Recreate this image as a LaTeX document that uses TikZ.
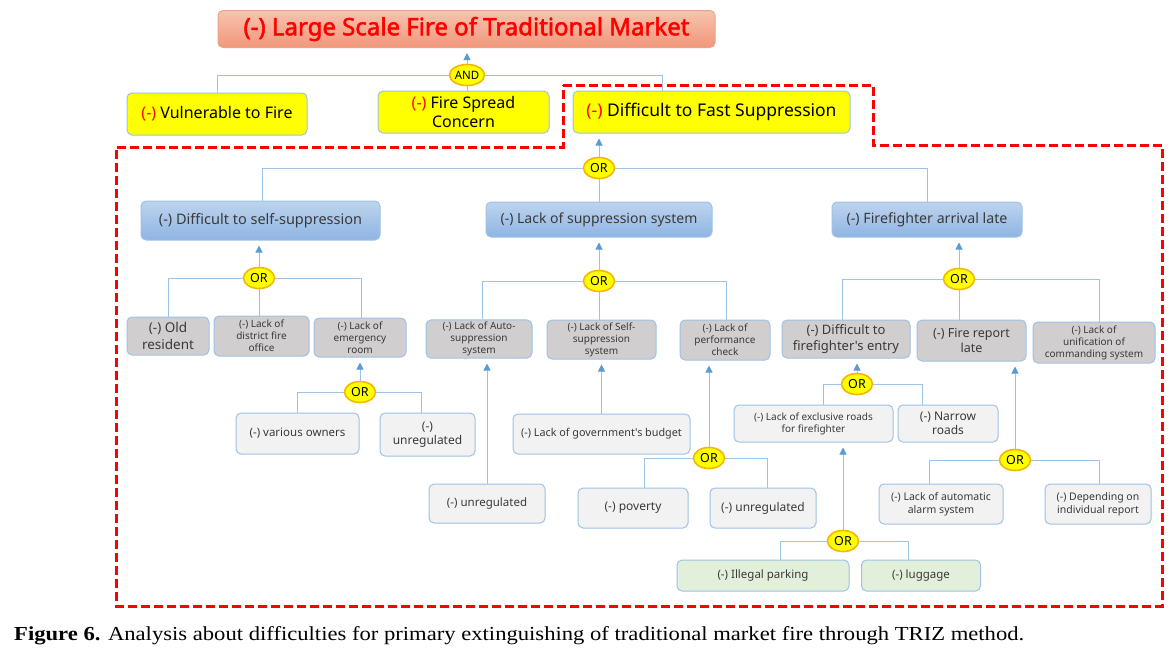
\documentclass[tikz,border=0pt]{standalone}
\usepackage{fontspec}
\usetikzlibrary{shapes.geometric,arrows.meta}
\setmainfont{Liberation Serif}
\newfontfamily\bx{Noto Sans}
\newfontfamily\bxb{Noto Sans}[FakeBold=2.2]
\definecolor{yel}{HTML}{FFFF00}
\definecolor{gold}{HTML}{F5B800}
\definecolor{bordc}{HTML}{9DC3E6}
\definecolor{linec}{HTML}{9DC3E6}
\definecolor{arrc}{HTML}{5B9BD5}
\definecolor{grayc}{HTML}{D0CECE}
\definecolor{lightc}{HTML}{F2F2F2}
\definecolor{greenc}{HTML}{E2EFDA}
\definecolor{blu1}{HTML}{BDD4EE}
\definecolor{blu2}{HTML}{8FB4E3}
\definecolor{sal1}{HTML}{F8C3AE}
\definecolor{sal2}{HTML}{F0977A}
\definecolor{salb}{HTML}{E8A58C}
\definecolor{dred}{HTML}{FF0000}
\definecolor{txt}{HTML}{3A3A3A}
\newcommand\fs[1]{\fontsize{#1}{\the\dimexpr #1pt*6/5\relax}\selectfont}
\newcommand\mn{{\color{red}(-)}}
\tikzset{
  box/.style={rounded corners=5pt, draw=bordc, line width=1pt, align=center, inner sep=2pt, font=\bx, text=txt},
  ybox/.style={box, fill=yel, text=black},
  bbox/.style={box, top color=blu1, bottom color=blu2},
  gbox/.style={box, fill=grayc},
  lbox/.style={box, fill=lightc},
  grbox/.style={box, fill=greenc},
  gate/.style={ellipse, draw=gold, fill=yel, line width=1.6pt, inner sep=0pt, minimum width=31pt, minimum height=21pt, font=\bx\fs{12.5}, text=black},
  conn/.style={draw=linec, line width=1pt},
  arr/.style={conn, shorten >=5pt, -{Triangle[width=7pt,length=7pt,color=arrc]}},
  dashbox/.style={draw=dred, line width=3pt, dash pattern=on 9pt off 4pt}
}
\begin{document}
\begin{tikzpicture}[x=1pt,y=-1pt]
\fill[white] (0,0) rectangle (1176,657);
\useasboundingbox (0,0) rectangle (1176,657);
% red dashed outline
\draw[dashbox] (563,85) -- (873,85) -- (873,145) -- (1162,145) -- (1162,606) -- (116,606) -- (116,147) -- (563,147) -- cycle;
% level 0
\node[box, draw=salb, top color=sal1, bottom color=sal2, minimum width=497pt, minimum height=37pt, font=\bxb\fs{24}, text=red] (title) at (466.5,29) {(-) Large Scale Fire of Traditional Market};
\node[gate, minimum width=35pt, font=\bx\fs{11.5}] (and) at (467,75) {AND};
% level 1
\node[ybox, minimum width=180pt, minimum height=42pt, font=\bx\fs{16}] (vul) at (217,114) {\mn\ Vulnerable to Fire};
\node[ybox, minimum width=171pt, minimum height=42pt, font=\bx\fs{16}] (spread) at (463.5,112) {\mn\ Fire Spread\\Concern};
\node[ybox, minimum width=277pt, minimum height=42pt, font=\bx\fs{17.5}] (fast) at (711.5,112) {\mn\ Difficult to Fast Suppression};
\node[gate] (or1) at (599,168) {OR};
% level 2
\node[bbox, minimum width=239pt, minimum height=39pt, font=\bx\fs{14.5}] (self) at (260.5,220.5) {(-) Difficult to self-suppression};
\node[bbox, minimum width=226pt, minimum height=35pt, font=\bx\fs{14}] (supp) at (599,219.5) {(-) Lack of suppression system};
\node[bbox, minimum width=190pt, minimum height=35pt, font=\bx\fs{14.2}] (late) at (927,219.5) {(-) Firefighter arrival late};
% left branch
\node[gate] (or2) at (259,278) {OR};
\node[gbox, minimum width=82pt, minimum height=38pt, font=\bx\fs{13.5}] (old) at (168,336) {(-) Old\\resident};
\node[gbox, minimum width=95pt, minimum height=40pt, font=\bx\fs{10}] (dist) at (261.5,336) {(-) Lack of\\district fire\\office};
\node[gbox, minimum width=92pt, minimum height=39pt, font=\bx\fs{10}] (emer) at (360,337.5) {(-) Lack of\\emergency\\room};
\node[gate] (or3) at (360,392) {OR};
\node[lbox, minimum width=123pt, minimum height=41pt, font=\bx\fs{11.5}] (own) at (297.5,433.5) {(-) various owners};
\node[lbox, minimum width=95pt, minimum height=43pt, font=\bx\fs{12}] (unra) at (427.5,434.5) {(-)\\unregulated};
% middle branch
\node[gate] (or4) at (599,281) {OR};
\node[gbox, minimum width=106pt, minimum height=38pt, font=\bx\fs{10}] (auto) at (479,339) {(-) Lack of Auto-\\suppression\\system};
\node[gbox, minimum width=109pt, minimum height=39pt, font=\bx\fs{10}] (selfs) at (601.5,339.5) {(-) Lack of Self-\\suppression\\system};
\node[gbox, minimum width=90pt, minimum height=40pt, font=\bx\fs{10}] (perf) at (725,340) {(-) Lack of\\performance\\check};
\node[lbox, minimum width=116pt, minimum height=39pt, font=\bx\fs{11.5}] (unrb) at (487,503.5) {(-) unregulated};
\node[lbox, minimum width=177pt, minimum height=40pt, font=\bx\fs{10.8}] (budget) at (601.5,434) {(-) Lack of government's budget};
\node[gate] (or5) at (709,458) {OR};
\node[lbox, minimum width=110pt, minimum height=40pt, font=\bx\fs{12}] (pov) at (633,508) {(-) poverty};
\node[lbox, minimum width=106pt, minimum height=40pt, font=\bx\fs{12}] (unrc) at (763,508) {(-) unregulated};
% right branch
\node[gate] (or6) at (959,279) {OR};
\node[gbox, minimum width=128pt, minimum height=38pt, font=\bx\fs{13}] (entry) at (846,339) {(-) Difficult to\\firefighter's entry};
\node[gbox, minimum width=109pt, minimum height=41pt, font=\bx\fs{12.5}] (report) at (971.5,340.5) {(-) Fire report\\late};
\node[gbox, minimum width=122pt, minimum height=41pt, font=\bx\fs{10}] (unif) at (1094,342.5) {(-) Lack of\\unification of\\commanding system};
\node[gate] (or7) at (857,384) {OR};
\node[lbox, minimum width=159pt, minimum height=37pt, font=\bx\fs{10}] (excl) at (813.5,423.5) {(-) Lack of exclusive roads\\for firefighter};
\node[lbox, minimum width=100pt, minimum height=37pt, font=\bx\fs{12}] (narrow) at (948,423.5) {(-) Narrow\\roads};
\node[gate] (or8) at (843,541) {OR};
\node[grbox, minimum width=172pt, minimum height=31pt, font=\bx\fs{11.5}] (park) at (763,575.5) {(-) Illegal parking};
\node[grbox, minimum width=119pt, minimum height=31pt, font=\bx\fs{11.5}] (lug) at (921,575.5) {(-) luggage};
\node[gate] (or9) at (1015,460) {OR};
\node[lbox, minimum width=124pt, minimum height=40pt, font=\bx\fs{10.5}] (alarm) at (941,504) {(-) Lack of automatic\\alarm system};
\node[lbox, minimum width=106pt, minimum height=40pt, font=\bx\fs{10.5}] (dep) at (1098,504) {(-) Depending on\\individual report};
% connectors
\draw[arr] (and.north) -- (and.north |- title.south);
\draw[conn] (and.west) -| (vul.north);
\draw[conn] (and.east) -| ([xshift=-49pt]fast.north);
\draw[conn] (and.south) -- (and.south |- spread.north);
\draw[arr] (or1.north) -- (or1.north |- fast.south);
\draw[conn] (or1.west) -| ([xshift=1.5pt]self.north);
\draw[conn] (or1.east) -| (late.north);
\draw[conn] (or1.south) -- (or1.south |- supp.north);
\draw[arr] (or2.north) -- (or2.north |- self.south);
\draw[conn] (or2.west) -| (old.north);
\draw[conn] (or2.east) -| ([xshift=1pt]emer.north);
\draw[conn] (or2.south) -- (or2.south |- dist.north);
\draw[arr] (or3.north) -- (or3.north |- emer.south);
\draw[conn] (or3.west) -| (own.north);
\draw[conn] (or3.east) -| ([xshift=-6.5pt]unra.north);
\draw[arr] (or4.north) -- (or4.north |- supp.south);
\draw[conn] (or4.west) -| ([xshift=3pt]auto.north);
\draw[conn] (or4.east) -| ([xshift=1pt]perf.north);
\draw[conn] (or4.south) -- (or4.south |- selfs.north);
\draw[arr] (unrb.north) -- (unrb.north |- auto.south);
\draw[arr] (budget.north) -- (budget.north |- selfs.south);
\draw[arr] (or5.north) -- (or5.north |- perf.south);
\draw[conn] (or5.west) -| ([xshift=11pt]pov.north);
\draw[conn] (or5.east) -| ([xshift=4pt]unrc.north);
\draw[arr] (or6.north) -- (or6.north |- late.south);
\draw[conn] (or6.west) -| ([xshift=-4pt]entry.north);
\draw[conn] (or6.east) -| ([xshift=5pt]unif.north);
\draw[conn] (or6.south) -- (or6.south |- report.north);
\draw[arr] (or7.north) -- (or7.north |- entry.south);
\draw[conn] (or7.west) -| ([xshift=9.5pt]excl.north);
\draw[conn] (or7.east) -| ([xshift=-26pt]narrow.north);
\draw[arr] (or8.north) -- (or8.north |- excl.south);
\draw[conn] (or8.west) -| ([xshift=17pt]park.north);
\draw[conn] (or8.east) -| ([xshift=-13pt]lug.north);
\draw[arr] (or9.north) -- (or9.north |- report.south);
\draw[conn] (or9.west) -| ([xshift=-12pt]alarm.north);
\draw[conn] (or9.east) -| ([xshift=1pt]dep.north);
% caption
\node[anchor=base west, inner sep=0pt] (cap) at (14,640) {\resizebox{1010pt}{14pt}{\fontsize{19}{19}\selectfont\textbf{Figure 6.} Analysis about difficulties for primary extinguishing of traditional market fire through TRIZ method.}};
\end{tikzpicture}
\end{document}
